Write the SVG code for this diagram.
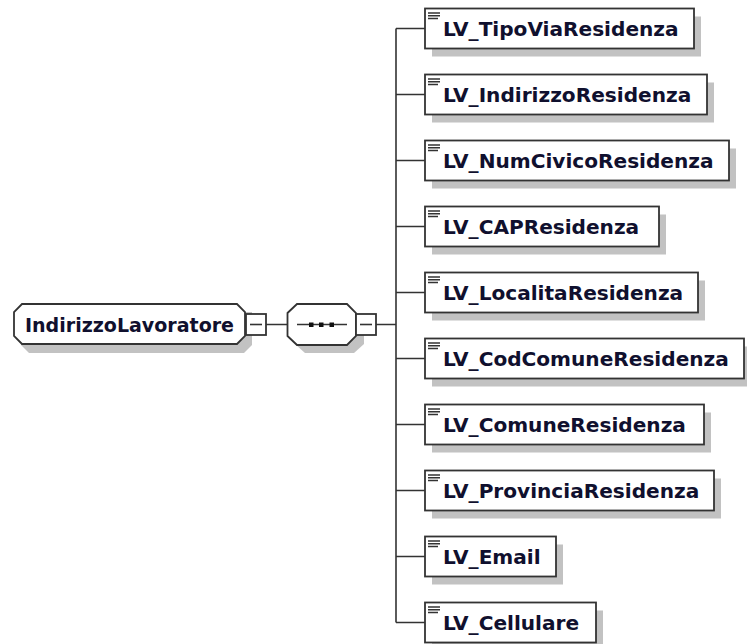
<svg xmlns="http://www.w3.org/2000/svg" width="747" height="644" viewBox="0 0 747 644">
<style>
.bg{fill:#ffffff}
.sh{fill:#c2c2c2;stroke:none}
.box{fill:#ffffff;stroke:#333333;stroke-width:1.8}
.lbl{font-family:"DejaVu Sans",Verdana,sans-serif;font-weight:bold;font-size:20.1px;fill:#10102e}
.ln{stroke:#333333;stroke-width:1.6;fill:none}
.ic{stroke:#333333;stroke-width:1.5}
.dot{fill:#111111}
</style>
<defs>
<g id="icon"><path class="ic" d="M428 4.5h12M428 7.2h12M428 9.9h10"/></g>
</defs>
<rect class="bg" x="0" y="0" width="747" height="644"/>
<g id="connectors">
<path class="ln" d="M266 324.5H287.5M376 324.5H396"/>
<path class="ln" d="M396 28.5V622.5"/>
<path class="ln" d="M396 28.5H425M396 94.5H425M396 160.5H425M396 226.5H425M396 292.5H425M396 358.5H425M396 424.5H425M396 490.5H425M396 556.5H425M396 622.5H425"/>
</g>
<g id="IndirizzoLavoratore">
<path class="sh" d="M29 312H252V345L244 353H29L21 345V320Z"/>
<path class="box" d="M22 304H237L245 312V336L237 344H22L14 336V312Z"/>
<text class="lbl" x="25" y="331.5" textLength="209" lengthAdjust="spacingAndGlyphs">IndirizzoLavoratore</text>
<rect class="box" x="246" y="314" width="20" height="21"/>
<path class="ln" d="M250 324.5H262"/>
</g>
<g id="sequence">
<path class="sh" d="M305 312H354L364 322V344L354 353H305L295 344V322Z"/>
<path class="box" d="M297 304H347L356 313V336L347 345H297L287.5 336V313Z"/>
<path class="ln" d="M297 324.5H347"/>
<rect class="dot" x="309" y="322.5" width="4.5" height="4.5"/>
<rect class="dot" x="319" y="322.5" width="4.5" height="4.5"/>
<rect class="dot" x="329.5" y="322.5" width="4.5" height="4.5"/>
<rect class="box" x="356" y="314" width="20" height="21"/>
<path class="ln" d="M360 324.5H372"/>
</g>
<g id="LV_TipoViaResidenza">
<rect class="sh" x="432" y="16.5" width="269" height="40"/>
<rect class="box" x="425" y="8.5" width="269" height="40"/>
<use href="#icon" y="8.5"/>
<text class="lbl" x="443" y="36.2">LV_TipoViaResidenza</text>
</g>
<g id="LV_IndirizzoResidenza">
<rect class="sh" x="432" y="82.5" width="282" height="40"/>
<rect class="box" x="425" y="74.5" width="282" height="40"/>
<use href="#icon" y="74.5"/>
<text class="lbl" x="443" y="102.2">LV_IndirizzoResidenza</text>
</g>
<g id="LV_NumCivicoResidenza">
<rect class="sh" x="432" y="148.5" width="304" height="40"/>
<rect class="box" x="425" y="140.5" width="304" height="40"/>
<use href="#icon" y="140.5"/>
<text class="lbl" x="443" y="168.2">LV_NumCivicoResidenza</text>
</g>
<g id="LV_CAPResidenza">
<rect class="sh" x="432" y="214.5" width="234" height="40"/>
<rect class="box" x="425" y="206.5" width="234" height="40"/>
<use href="#icon" y="206.5"/>
<text class="lbl" x="443" y="234.2">LV_CAPResidenza</text>
</g>
<g id="LV_LocalitaResidenza">
<rect class="sh" x="432" y="280.5" width="273" height="40"/>
<rect class="box" x="425" y="272.5" width="273" height="40"/>
<use href="#icon" y="272.5"/>
<text class="lbl" x="443" y="300.2">LV_LocalitaResidenza</text>
</g>
<g id="LV_CodComuneResidenza">
<rect class="sh" x="432" y="346.5" width="319" height="40"/>
<rect class="box" x="425" y="338.5" width="319" height="40"/>
<use href="#icon" y="338.5"/>
<text class="lbl" x="443" y="366.2">LV_CodComuneResidenza</text>
</g>
<g id="LV_ComuneResidenza">
<rect class="sh" x="432" y="412.5" width="279" height="40"/>
<rect class="box" x="425" y="404.5" width="279" height="40"/>
<use href="#icon" y="404.5"/>
<text class="lbl" x="443" y="432.2">LV_ComuneResidenza</text>
</g>
<g id="LV_ProvinciaResidenza">
<rect class="sh" x="432" y="478.5" width="289" height="40"/>
<rect class="box" x="425" y="470.5" width="289" height="40"/>
<use href="#icon" y="470.5"/>
<text class="lbl" x="443" y="498.2">LV_ProvinciaResidenza</text>
</g>
<g id="LV_Email">
<rect class="sh" x="432" y="544.5" width="131" height="40"/>
<rect class="box" x="425" y="536.5" width="131" height="40"/>
<use href="#icon" y="536.5"/>
<text class="lbl" x="443" y="564.2">LV_Email</text>
</g>
<g id="LV_Cellulare">
<rect class="sh" x="432" y="610.5" width="171" height="40"/>
<rect class="box" x="425" y="602.5" width="171" height="40"/>
<use href="#icon" y="602.5"/>
<text class="lbl" x="443" y="630.2">LV_Cellulare</text>
</g>
</svg>
